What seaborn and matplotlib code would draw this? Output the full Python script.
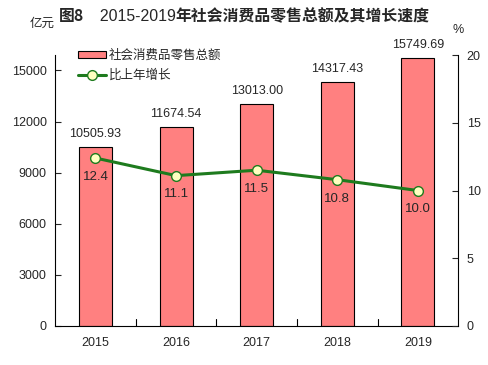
import numpy as np
import pandas as pd
import matplotlib
matplotlib.use('Agg')
import matplotlib.pyplot as plt
import seaborn as sns

years = ['2015', '2016', '2017', '2018', '2019']
sales = [10505.93, 11674.54, 13013.00, 14317.43, 15749.69]
growth = [12.4, 11.1, 11.5, 10.8, 10.0]
sales_labels = ['10505.93', '11674.54', '13013.00', '14317.43', '15749.69']
growth_labels = ['12.4', '11.1', '11.5', '10.8', '10.0']

sns.set_style('white')
plt.rcParams['font.family'] = ['Liberation Sans', 'Noto Sans CJK SC', 'DejaVu Sans']
cjk = ['Noto Sans CJK SC', 'DejaVu Sans']

df = pd.DataFrame({'year': years, 'sales': sales, 'growth': growth})
df['pos'] = np.arange(len(years))

fig = plt.figure(figsize=(4.88, 3.65), dpi=100)
ax = fig.add_axes([0.113, 0.107, 0.826, 0.742])

sns.barplot(data=df, x='year', y='sales', color='#FF8080', saturation=1,
            edgecolor='black', linewidth=0.8, width=0.41, ax=ax,
            label='社会消费品零售总额')
ax.set_ylim(0, 15900)
ax.set_yticks([0, 3000, 6000, 9000, 12000, 15000])
ax.set_xlim(-0.5, 4.5)
ax.set_xlabel('')
ax.set_ylabel('')
ax.set_xticks(range(5))
ax.set_xticklabels(years, fontsize=9)
ax.tick_params(axis='x', length=0, pad=8)
ax.tick_params(axis='y', direction='in', length=4, labelsize=9, pad=6)
# ticks between the categories
for b in [0.5, 1.5, 2.5, 3.5]:
    ax.plot([b, b], [0, 400], color='black', lw=0.8, clip_on=False)
for s in ['top', 'right']:
    ax.spines[s].set_visible(False)
for s in ['left', 'bottom']:
    ax.spines[s].set_color('black')
    ax.spines[s].set_linewidth(0.8)

for i, lab in enumerate(sales_labels):
    ax.text(i, sales[i] + 420, lab, ha='center', va='bottom', fontsize=9)

ax2 = ax.twinx()
sns.lineplot(data=df, x='pos', y='growth', color='#1E7B1E', lw=2.2,
             marker='o', markersize=7, markerfacecolor='#FFFFC0',
             markeredgecolor='#1E7B1E', markeredgewidth=1, ax=ax2,
             label='比上年增长')
ax2.set_ylim(0, 20)
ax2.set_yticks([0, 5, 10, 15, 20])
ax2.set_ylabel('')
ax2.set_xlabel('')
ax2.tick_params(axis='y', direction='in', length=4, labelsize=9, pad=6)
for s in ['top', 'left', 'bottom']:
    ax2.spines[s].set_visible(False)
ax2.spines['right'].set_color('black')
ax2.spines['right'].set_linewidth(0.8)
ax2.set_xlim(-0.5, 4.5)

for i, lab in enumerate(growth_labels):
    ax2.text(i, growth[i] - 0.95, lab, ha='center', va='top', fontsize=9.5)

h1, l1 = ax.get_legend_handles_labels()
h2, l2 = ax2.get_legend_handles_labels()
ax2.legend(h1 + h2, l1 + l2, loc='upper left', bbox_to_anchor=(0.03, 1.065),
           frameon=False, prop={'family': cjk, 'size': 9},
           handlelength=2.2, handleheight=0.5, handletextpad=0.2,
           labelspacing=0.55)
if ax.get_legend() is not None:
    ax.get_legend().remove()

# title: "图8" bold, years regular, rest bold
parts = [('图8', 'bold', cjk), ('　2015-2019', 'normal', ['Liberation Sans', 'Noto Sans CJK SC']),
         ('年社会消费品零售总额及其增长速度', 'bold', cjk)]
fig.canvas.draw()
r = fig.canvas.get_renderer()
widths = []
objs = []
for txt, w, fam in parts:
    t = fig.text(0, 0.955, txt, ha='left', va='center', fontsize=11.4, fontweight=w, family=fam)
    bb = t.get_window_extent(renderer=r)
    widths.append(bb.width / fig.bbox.width)
    objs.append(t)
x0 = 0.5 - sum(widths) / 2
for t, wd in zip(objs, widths):
    t.set_x(x0)
    x0 += wd

fig.text(0.06, 0.935, '亿元', ha='left', va='center', fontsize=9, family=cjk)
fig.text(0.938, 0.918, '%', ha='center', va='center', fontsize=9)

fig.savefig('out.png', dpi=100)
